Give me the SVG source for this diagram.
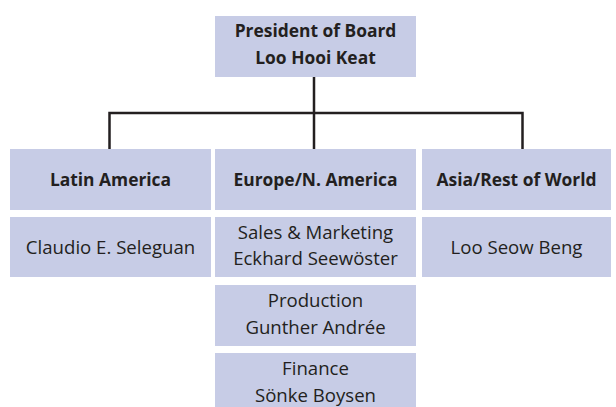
<svg xmlns="http://www.w3.org/2000/svg" width="616" height="407" viewBox="0 0 616 407">
<style>
.box{fill:#c7cce6}
.t{font-family:"Open Sans","Liberation Sans",sans-serif;font-size:18.6px;fill:#231f20;text-anchor:middle}
.b{font-weight:bold;font-size:17.4px}
.ln{stroke:#231f20;stroke-width:2.5;fill:none}
</style>
<rect width="616" height="407" fill="#fff"/>
<g id="connectors">
<path class="ln" d="M314 77V113M109.5 149V113H522.5V149M314 113V149"/>
</g>
<g id="president">
<rect class="box" x="215" y="16" width="201" height="61"/>
<text class="t b" x="315.5" y="37">President of Board</text>
<text class="t b" x="315.5" y="64">Loo Hooi Keat</text>
</g>
<g id="latin-america">
<rect class="box" x="10" y="149" width="201" height="61"/>
<text class="t b" x="110.5" y="186">Latin America</text>
</g>
<g id="europe">
<rect class="box" x="215" y="149" width="201" height="61"/>
<text class="t b" x="315.5" y="186">Europe/N. America</text>
</g>
<g id="asia">
<rect class="box" x="422" y="149" width="189" height="61"/>
<text class="t b" x="516.5" y="186">Asia/Rest of World</text>
</g>
<g id="claudio">
<rect class="box" x="10" y="217" width="201" height="60"/>
<text class="t" x="110.5" y="254">Claudio E. Seleguan</text>
</g>
<g id="sales">
<rect class="box" x="215" y="217" width="201" height="60"/>
<text class="t" x="315.5" y="239">Sales &amp; Marketing</text>
<text class="t" x="315.5" y="265">Eckhard Seewöster</text>
</g>
<g id="loo-seow-beng">
<rect class="box" x="422" y="217" width="189" height="60"/>
<text class="t" x="516.5" y="254">Loo Seow Beng</text>
</g>
<g id="production">
<rect class="box" x="215" y="285" width="201" height="61"/>
<text class="t" x="315.5" y="307">Production</text>
<text class="t" x="315.5" y="334">Gunther Andrée</text>
</g>
<g id="finance">
<rect class="box" x="215" y="353" width="201" height="54"/>
<text class="t" x="315.5" y="375">Finance</text>
<text class="t" x="315.5" y="402">Sönke Boysen</text>
</g>
</svg>
